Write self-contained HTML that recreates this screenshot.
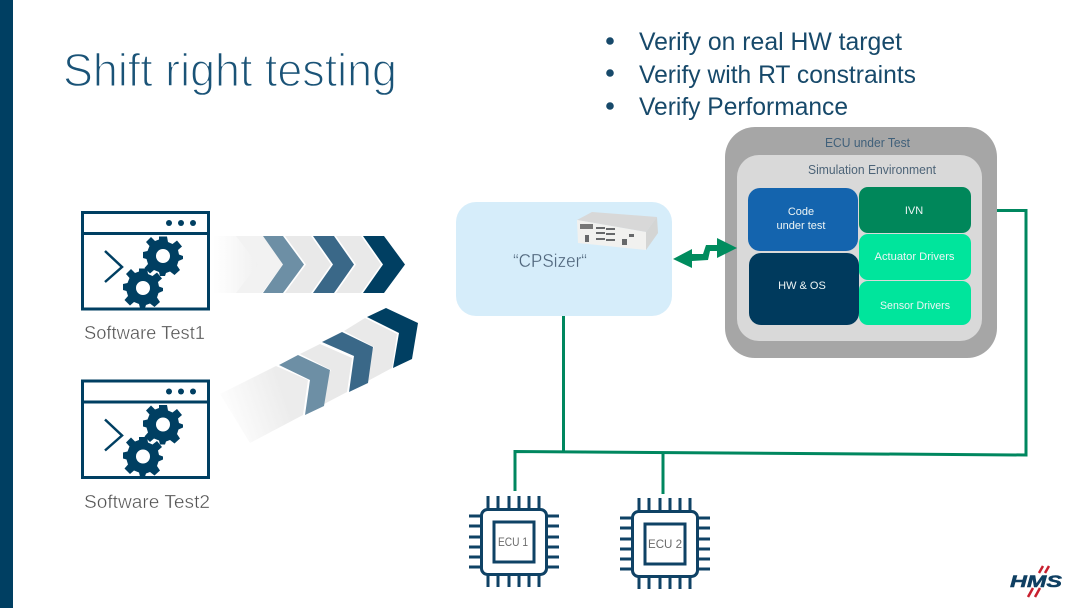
<!DOCTYPE html>
<html><head><meta charset="utf-8"><style>
html,body{margin:0;padding:0;background:#fff}
svg{display:block}
text{font-family:"Liberation Sans",sans-serif}
</style></head><body>
<svg width="1080" height="608" viewBox="0 0 1080 608" xmlns="http://www.w3.org/2000/svg">
<defs>
<linearGradient id="f1" x1="0" x2="1" y1="0" y2="0"><stop offset="0" stop-color="#fff"/><stop offset="1" stop-color="#f0f0f0"/></linearGradient>
<linearGradient id="f2" x1="0" x2="1" y1="0.65" y2="0.35"><stop offset="0" stop-color="#fff"/><stop offset="0.75" stop-color="#ececec"/><stop offset="1" stop-color="#ececec"/></linearGradient>
<g id="gear" fill="#003f62">
<path fill-rule="evenodd" d="M-4-19.500H4L5-14 9.500-12 14-15.500 19-9.500 15-6 16-1.500 20 0 20 3 15.500 5 14 9.500 17 14 11.500 19 7 15.500 3 17 2 20H-3L-4 16-9 14-13 17.500-18.500 12-15 8-16.500 3-20 2V-4L-15.500-5-13.500-10-17-14-12-19-8-15-4-16.500Z M7 0A7 7 0 1 0-7 0 7 7 0 1 0 7 0Z"/>
</g>
<g id="win">
<rect x="82.500" y="212.500" width="126" height="96.500" fill="#fff" stroke="#003f62" stroke-width="3"/>
<path d="M82 233.500H209" stroke="#003f62" stroke-width="3"/>
<circle cx="169" cy="223" r="3" fill="#003f62"/><circle cx="181" cy="223" r="3" fill="#003f62"/><circle cx="193" cy="223" r="3" fill="#003f62"/>
<path d="M105 251L122 267 105 282" fill="none" stroke="#003f62" stroke-width="2.500"/>
<use href="#gear" x="163" y="256"/><use href="#gear" x="143" y="288"/>
</g>
<g id="chip" fill="none" stroke="#0f4265" stroke-width="3">
<rect x="481.500" y="509.500" width="65" height="65" rx="6" stroke-width="3"/>
<rect x="494" y="522" width="40" height="40" stroke-width="3"/>
<path d="M488 496V509M498 496V509M509 496V509M519 496V509M529 496V509M539 496V509M488 575V587M498 575V587M509 575V587M519 575V587M529 575V587M539 575V587M469 516H481M469 526H481M469 537H481M469 547H481M469 557H481M469 567H481M547 516H559M547 526H559M547 537H559M547 547H559M547 557H559M547 567H559"/>
</g>
</defs>

<rect x="0" y="0" width="13" height="608" fill="#003f62"/>

<text x="63" y="86" font-size="46" fill="#1a5377" stroke="#fff" stroke-width="1.400" textLength="334" lengthAdjust="spacingAndGlyphs">Shift right testing</text>

<g fill="#17496a" font-size="25">
<circle cx="610" cy="41" r="3.800"/><circle cx="610" cy="73" r="3.800"/><circle cx="610" cy="106" r="3.800"/>
<text x="639" y="50" textLength="263" lengthAdjust="spacingAndGlyphs">Verify on real HW target</text>
<text x="639" y="83" textLength="277" lengthAdjust="spacingAndGlyphs">Verify with RT constraints</text>
<text x="639" y="115" textLength="209" lengthAdjust="spacingAndGlyphs">Verify Performance</text>
</g>

<use href="#win"/>
<use href="#win" y="168.500"/>
<text x="84" y="339" font-size="18" fill="#555" stroke="#fff" stroke-width="0.350" textLength="121" lengthAdjust="spacingAndGlyphs">Software Test1</text>
<text x="84" y="508" font-size="18" fill="#555" stroke="#fff" stroke-width="0.350" textLength="126" lengthAdjust="spacingAndGlyphs">Software Test2</text>

<!-- straight chevrons -->
<polygon points="213,236 240,236 260,264.500 240,293 213,293" fill="url(#f1)"/>
<polygon points="236,236 263,236 283,264.500 262,293 236,293 258,264.500" fill="#f2f2f2"/>
<polygon points="285,236 311,236 331,264.500 311,293 285,293 306,264.500" fill="#e9e9e9"/>
<polygon points="336,236 361,236 381,264.500 361,293 336,293 356,264.500" fill="#e9e9e9"/>
<polygon points="263,236 283,236 304,264.500 283,293 263,293 283,264.500" fill="#6d8fa5"/>
<polygon points="313,236 334,236 354,264.500 334,293 313,293 333,264.500" fill="#3a6888"/>
<polygon points="363,236 384,236 405,264.500 384,293 363,293 383,264.500" fill="#003f62"/>

<!-- slanted chevrons -->
<polygon points="220,394 276,366 308,380 303,415 250,443" fill="url(#f2)"/>
<polygon points="300,354 320,344 352,358 347,392 307,413 331,370" fill="#e9e9e9"/>
<polygon points="344,331 365,318 397,334 392,368 351,390 374,347" fill="#e9e9e9"/>
<polygon points="279,365 298,355 330,370 324,406 305,415 310,380" fill="#6d8fa5"/>
<polygon points="322,342 342,332 373,347 368,383 349,392 354,356" fill="#3a6888"/>
<polygon points="367,317 386,308 418,323 412,359 393,368 399,333" fill="#003f62"/>

<!-- CPSizer -->
<rect x="456" y="202" width="216" height="114" rx="20" fill="#d6edfa"/>
<text x="513" y="267" font-size="18" fill="#50667c" stroke="#d6edfa" stroke-width="0.300" textLength="74" lengthAdjust="spacingAndGlyphs">“CPSizer“</text>
<polygon points="577,220 592,212 657,217 646,232" fill="#d8d8d8"/>
<polygon points="577,220 646,232 646,250 578,243" fill="#f1f1ef"/>
<polygon points="646,232 657,217 658,233 646,250" fill="#d4d5d4"/>
<rect x="580" y="224" width="13" height="5" fill="#777"/>
<g fill="#66686a">
<rect x="596" y="227" width="9" height="2"/><rect x="606" y="228" width="9" height="2"/>
<rect x="596" y="232" width="9" height="2"/><rect x="606" y="233" width="9" height="2"/>
<rect x="596" y="238" width="9" height="2"/><rect x="606" y="239" width="9" height="2"/>
<rect x="585" y="235" width="4" height="7"/><rect x="622" y="239" width="5" height="6"/><rect x="629" y="234" width="5" height="3"/>
</g>

<!-- ECU under test -->
<rect x="725" y="127" width="272" height="231" rx="30" fill="#a6a6a6"/>
<rect x="737" y="155" width="245" height="186" rx="22" fill="#d9d9d9"/>
<text x="825" y="147" font-size="12.500" fill="#40607a" textLength="85" lengthAdjust="spacingAndGlyphs">ECU under Test</text>
<text x="808" y="174" font-size="12.500" fill="#4d6478" textLength="128" lengthAdjust="spacingAndGlyphs">Simulation Environment</text>
<rect x="748" y="188" width="110" height="63" rx="12" fill="#1464ae"/>
<rect x="749" y="253" width="110" height="72" rx="12" fill="#003a5d"/>
<rect x="859" y="187" width="112" height="46" rx="9" fill="#00875a"/>
<rect x="859" y="234" width="112" height="46" rx="9" fill="#00e59c"/>
<rect x="859" y="281" width="112" height="44" rx="9" fill="#00e59c"/>
<g fill="#eef5f5" font-size="11" text-anchor="middle">
<text x="801" y="215">Code</text>
<text x="801" y="229">under test</text>
<text x="802" y="289">HW &amp; OS</text>
<text x="914" y="214">IVN</text>
<text x="914.500" y="260" textLength="80" lengthAdjust="spacingAndGlyphs">Actuator Drivers</text>
<text x="915" y="309" textLength="70" lengthAdjust="spacingAndGlyphs">Sensor Drivers</text>
</g>

<!-- double arrow -->
<polygon points="673,259 692,249 692,254 703,254 706,245 717,245 717,238 737,248 717,258 717,251 710,251 708,260 692,261 692,268" fill="#008c5e"/>

<!-- green lines -->
<g fill="none" stroke="#00875f" stroke-width="3">
<path d="M997 210.500H1026V455L515 451.500V491"/>
<path d="M563.500 316V452"/>
<path d="M663 454V494"/>
</g>

<!-- chips -->
<use href="#chip"/>
<use href="#chip" x="151" y="2"/>
<text x="498" y="546" font-size="12" fill="#6a6a6a" textLength="30" lengthAdjust="spacingAndGlyphs">ECU 1</text>
<text x="648" y="548" font-size="12" fill="#6a6a6a" textLength="34" lengthAdjust="spacingAndGlyphs">ECU 2</text>

<!-- logo -->
<text x="1010" y="587" font-size="17" font-weight="bold" font-style="italic" fill="#0f3f62" stroke="#0f3f62" stroke-width="0.500" textLength="52" lengthAdjust="spacingAndGlyphs">HMS</text>
<g stroke="#c8202f" stroke-width="2.500" fill="none">
<path d="M1039 573L1043 566M1045 573L1049 566M1028 597L1033 588M1035 597L1040 588"/>
</g>
</svg>
</body></html>
